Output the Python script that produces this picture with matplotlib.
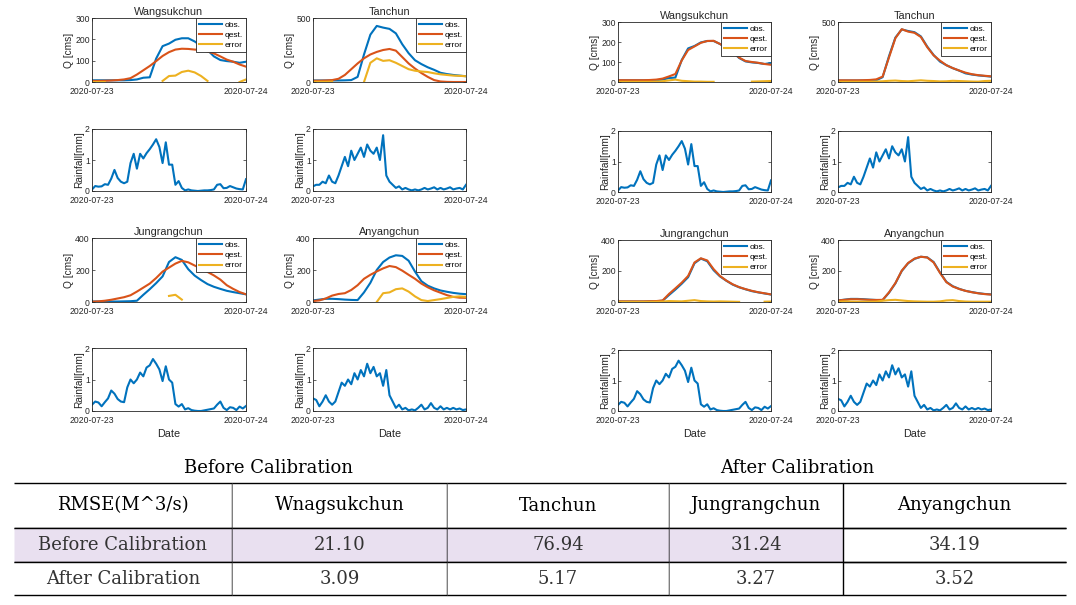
import numpy as np
import matplotlib.pyplot as plt

W, H = 1076, 605
nan = np.nan

stations = ['Wangsukchun', 'Tanchun', 'Jungrangchun', 'Anyangchun']
q_top = [300, 500, 400, 400]
q_ticks = [[0, 100, 200, 300], [0, 500], [0, 200, 400], [0, 200, 400]]
date_labels = ['2020-07-23', '2020-07-24']

hours = np.arange(25)
half_hours = np.arange(0, 24.5, 0.5)

# observed discharge (hourly)
obs_wang = [8, 8, 8, 8, 8, 8, 9, 12, 20, 22, 110, 168, 180, 198, 205, 205, 190, 170, 150, 120, 103, 98, 95, 90, 95]
obs_tan = [12, 12, 12, 12, 12, 13, 15, 40, 215, 370, 438, 425, 415, 380, 295, 225, 170, 140, 115, 95, 72, 62, 55, 50, 45]
obs_jung = [3, 3, 3, 3, 3, 4, 5, 8, 45, 80, 118, 160, 250, 280, 263, 205, 165, 137, 112, 95, 82, 70, 62, 55, 48]
obs_any = [10, 15, 20, 20, 18, 15, 13, 12, 60, 120, 200, 250, 278, 292, 288, 258, 190, 130, 102, 85, 72, 64, 57, 52, 49]

# estimated discharge before calibration
qest_wang_b = [5, 5, 6, 7, 9, 12, 18, 35, 55, 75, 98, 122, 140, 152, 156, 155, 152, 150, 143, 134, 120, 105, 95, 82, 72]
qest_tan_b = [10, 10, 12, 15, 25, 55, 100, 145, 185, 215, 235, 250, 258, 245, 195, 145, 105, 70, 40, 15, 4, 1, 0, 0, 0]
qest_jung_b = [2, 4, 8, 14, 22, 30, 42, 65, 90, 115, 150, 190, 215, 240, 257, 248, 228, 210, 188, 166, 140, 105, 82, 62, 48]
qest_any_b = [6, 10, 22, 40, 50, 55, 75, 105, 145, 170, 191, 210, 225, 218, 196, 170, 145, 115, 92, 73, 58, 43, 32, 27, 26]

err_wang_b = [0, 0, 0, nan, nan, nan, nan, nan, nan, nan, nan, 5, 28, 30, 47, 53, 45, 28, 5, nan, nan, nan, nan, 0, 12]
err_tan_b = [2, 2, 2, 3, nan, nan, nan, nan, 0, 150, 185, 165, 170, 150, 125, 100, 88, 82, 78, 68, 60, 55, 50, 48, 45]
err_jung_b = [nan, nan, nan, nan, nan, nan, nan, nan, nan, nan, nan, nan, 38, 45, 15, nan, nan, nan, nan, nan, nan, nan, nan, nan, nan]
err_any_b = [2, nan, nan, nan, nan, nan, nan, nan, nan, nan, 0, 55, 60, 80, 85, 65, 35, 12, 6, 12, 18, 25, 32, 35, 32]

# estimated discharge after calibration
qest_wang_a = [9, 9, 9, 9, 9, 10, 12, 17, 28, 40, 108, 160, 178, 196, 205, 206, 190, 172, 150, 122, 105, 100, 96, 90, 86]
qest_tan_a = [14, 14, 14, 14, 15, 17, 22, 45, 205, 365, 440, 420, 410, 375, 290, 222, 178, 140, 116, 96, 78, 65, 57, 52, 47]
qest_jung_a = [4, 4, 4, 4, 4, 5, 6, 10, 52, 88, 125, 168, 255, 282, 268, 212, 168, 138, 114, 96, 83, 72, 63, 56, 49]
qest_any_a = [10, 14, 18, 18, 16, 14, 13, 14, 62, 122, 202, 252, 280, 292, 287, 255, 188, 128, 100, 84, 72, 63, 56, 51, 48]

err_wang_a = [1, 1, 1, 1, 1, 1, 2, 4, 8, 12, 6, 4, 2, 2, 1, 1, nan, nan, nan, nan, nan, 2, 3, 4, 5]
err_tan_a = [2, 2, 2, 2, 2, 2, 4, 6, 10, 12, 8, 6, 10, 14, 10, 8, 5, 6, 10, 8, 6, 4, 3, 8, 10]
err_jung_a = [1, 1, 1, 1, 1, 1, 2, 3, 6, 5, 4, 8, 12, 6, 4, 3, 4, 3, 2, 1, nan, nan, nan, 2, 3]
err_any_a = [2, 4, 3, 2, 2, 2, 3, 8, 12, 14, 10, 6, 4, 3, 2, 2, 4, 10, 12, 6, 3, 2, 2, 2, 2]

# rainfall (half-hourly)
rain_wang = [0.05, 0.16, 0.14, 0.15, 0.22, 0.2, 0.4, 0.68, 0.42, 0.3, 0.25, 0.3, 0.9, 1.2, 0.72, 1.2, 1.05,
             1.22, 1.35, 1.5, 1.67, 1.42, 0.9, 1.57, 0.85, 0.85, 0.2, 0.32, 0.1, 0.02, 0.05, 0.02, 0.01, 0.0,
             0.01, 0.02, 0.02, 0.03, 0.05, 0.2, 0.22, 0.09, 0.1, 0.16, 0.12, 0.08, 0.06, 0.05, 0.38]
rain_tan = [0.15, 0.2, 0.2, 0.3, 0.25, 0.5, 0.3, 0.25, 0.5, 0.8, 1.1, 0.8, 1.3, 1.0, 1.2, 1.4, 1.1,
            1.5, 1.3, 1.2, 1.4, 1.0, 1.8, 0.5, 0.3, 0.2, 0.1, 0.15, 0.05, 0.1, 0.05, 0.02, 0.05, 0.02,
            0.05, 0.1, 0.05, 0.08, 0.12, 0.05, 0.1, 0.05, 0.08, 0.12, 0.05, 0.08, 0.1, 0.05, 0.2]
rain_jung = [0.2, 0.3, 0.27, 0.15, 0.28, 0.4, 0.65, 0.55, 0.38, 0.3, 0.28, 0.75, 1.0, 0.88, 1.0, 1.22, 1.1,
             1.38, 1.45, 1.65, 1.5, 1.32, 0.95, 1.42, 1.0, 0.9, 0.22, 0.14, 0.22, 0.05, 0.09, 0.03, 0.01, 0.0,
             0.0, 0.02, 0.04, 0.06, 0.08, 0.2, 0.3, 0.1, 0.03, 0.12, 0.1, 0.03, 0.14, 0.08, 0.16]
rain_any = [0.4, 0.35, 0.15, 0.3, 0.5, 0.3, 0.2, 0.3, 0.6, 0.9, 0.8, 1.0, 0.85, 1.2, 1.0, 1.3, 1.1,
            1.5, 1.2, 1.4, 1.1, 1.2, 0.8, 1.3, 0.5, 0.3, 0.1, 0.2, 0.05, 0.1, 0.02, 0.05, 0.02, 0.1,
            0.2, 0.05, 0.1, 0.25, 0.1, 0.05, 0.15, 0.05, 0.1, 0.05, 0.1, 0.05, 0.08, 0.03, 0.05]

obs_all = [obs_wang, obs_tan, obs_jung, obs_any]
qest_before = [qest_wang_b, qest_tan_b, qest_jung_b, qest_any_b]
err_before = [err_wang_b, err_tan_b, err_jung_b, err_any_b]
qest_after = [qest_wang_a, qest_tan_a, qest_jung_a, qest_any_a]
err_after = [err_wang_a, err_tan_a, err_jung_a, err_any_a]
rain_all = [rain_wang, rain_tan, rain_jung, rain_any]

# RMSE table
table_header = ['RMSE(M^3/s)', 'Wnagsukchun', 'Tanchun', 'Jungrangchun', 'Anyangchun']
row_labels = ['Before Calibration', 'After Calibration']
rmse_before = ['21.10', '76.94', '31.24', '34.19']
rmse_after = ['3.09', '5.17', '3.27', '3.52']

C_OBS, C_EST, C_ERR = '#0072BD', '#D95319', '#EDB120'
DARK = '#262626'


def box(x0, y0, x1, y1):
    return [x0 / W, 1 - y1 / H, (x1 - x0) / W, (y1 - y0) / H]


def style(ax, top, ticks, ylabel):
    ax.set_xlim(0, 24)
    ax.set_ylim(0, top)
    ax.set_xticks([0, 24])
    ax.set_xticklabels(date_labels)
    ax.set_yticks(ticks)
    ax.tick_params(direction='in', length=2.5, width=0.5, labelsize=6.2, pad=1.5,
                   top=True, right=True, colors=DARK)
    ax.tick_params(axis='x', pad=3.5)
    ax.set_ylabel(ylabel, fontsize=7.3, labelpad=1, color=DARK)
    for s in ax.spines.values():
        s.set_linewidth(0.6)
        s.set_color(DARK)


plt.rcParams['font.family'] = ['Liberation Sans', 'DejaVu Sans']
fig = plt.figure(figsize=(W / 100, H / 100), dpi=100)

blocks = [
    dict(cols=[(92, 246), (313, 466)], rows=[(18, 82), (129, 191), (238, 302), (348, 411)],
         qest=qest_before, err=err_before),
    dict(cols=[(618, 771), (838, 991)], rows=[(22, 82), (131, 192), (240, 302), (350, 411)],
         qest=qest_after, err=err_after),
]

for blk in blocks:
    for i, name in enumerate(stations):
        x0, x1 = blk['cols'][i % 2]
        qy0, qy1 = blk['rows'][2 * (i // 2)]
        ry0, ry1 = blk['rows'][2 * (i // 2) + 1]

        ax = fig.add_axes(box(x0, qy0, x1, qy1))
        ax.plot(hours, obs_all[i], color=C_OBS, lw=1.5, label='obs.')
        ax.plot(hours, blk['qest'][i], color=C_EST, lw=1.5, label='qest.')
        ax.plot(hours, blk['err'][i], color=C_ERR, lw=1.5, label='error')
        style(ax, q_top[i], q_ticks[i], 'Q [cms]')
        ax.set_title(name, fontsize=7.8, pad=2, color=DARK)
        leg = ax.legend(loc='upper right', fontsize=6, handlelength=2.8, handletextpad=0.3,
                        borderpad=0.35, labelspacing=0.3, borderaxespad=0, fancybox=False,
                        edgecolor=DARK, framealpha=1)
        leg.get_frame().set_linewidth(0.6)

        axr = fig.add_axes(box(x0, ry0, x1, ry1))
        axr.plot(half_hours, rain_all[i], color=C_OBS, lw=1.5)
        style(axr, 2, [0, 1, 2], 'Rainfall[mm]')
        if i >= 2:
            axr.set_xlabel('Date', fontsize=7.8, labelpad=3, color=DARK)

# table
serif = 'DejaVu Serif'
fig.text(269 / W, 1 - 468 / H, 'Before Calibration', ha='center', va='center', fontsize=13, family=serif)
fig.text(797 / W, 1 - 468 / H, 'After Calibration', ha='center', va='center', fontsize=13, family=serif)

axt = fig.add_axes(box(14, 483, 1066, 595))
axt.axis('off')
cell_text = [[row_labels[0]] + rmse_before, [row_labels[1]] + rmse_after]
col_w = np.array([218, 215, 222, 174, 223]) / 1052
tbl = axt.table(cellText=cell_text, colLabels=table_header, colWidths=list(col_w),
                cellLoc='center', bbox=[0, 0, 1, 1])
tbl.auto_set_font_size(False)
row_h = [45, 34, 33]
for (r, c), cell in tbl.get_celld().items():
    cell.set_height(row_h[r])
    cell.visible_edges = 'BTR' if c < 4 else 'BT'
    cell.set_linewidth(1.0)
    cell.set_edgecolor('black')
    txt = cell.get_text()
    txt.set_fontfamily(serif)
    txt.set_fontsize(13)
    txt.set_color('black' if r == 0 else '#333333')
    if r == 1:
        cell.set_facecolor('#E9E0F0')

fig.savefig('out.png', dpi=100)
